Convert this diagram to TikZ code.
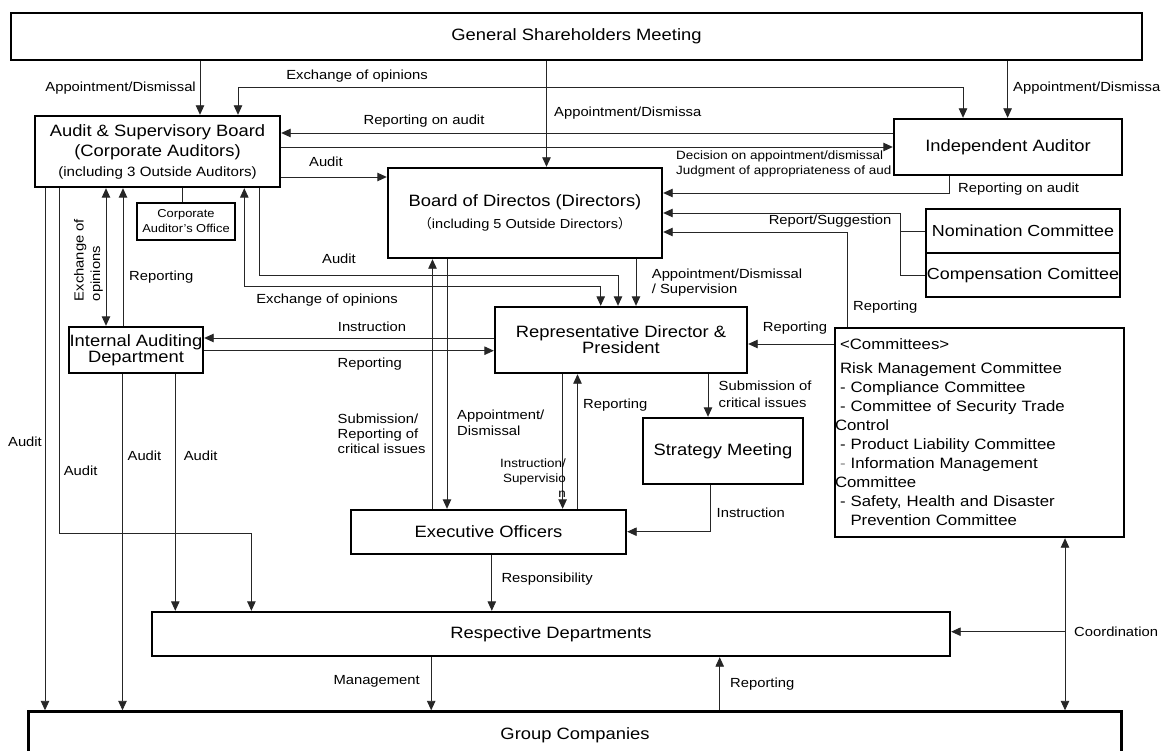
\documentclass[tikz,border=0pt]{standalone}
\usepackage{fontspec}
\setmainfont[FakeStretch=1.12]{Liberation Sans}
\newfontfamily\cjk{Noto Sans CJK JP}
\usetikzlibrary{arrows.meta}
\tikzset{
 box/.style={draw, line width=2.4pt, fill=white, inner sep=0pt, align=center, font=\fontsize{16.4}{16}\selectfont},
 lbl/.style={inner sep=0pt, font=\fontsize{13.2}{15}\selectfont},
 slbl/.style={inner sep=0pt, font=\fontsize{12}{15}\selectfont},
 conn/.style={line width=0.9pt, draw=black!85},
 tip/.style={-{Triangle[length=9.5pt,width=8.5pt]}},
 tips/.style={{Triangle[length=9.5pt,width=8.5pt]}-{Triangle[length=9.5pt,width=8.5pt]}},
}
\begin{document}
\begin{tikzpicture}[x=1pt,y=-1pt]
\clip (0,0) rectangle (1166,751);
\fill[white] (0,0) rectangle (1166,751);
% boxes
\node[box, minimum width=1131pt, minimum height=47pt] (gsm) at (576.5,36.5) {General Shareholders Meeting};
\node[box, minimum width=245pt, minimum height=71pt, font=\fontsize{16.4}{20}\selectfont] (asb) at (157.5,151.5) {Audit \& Supervisory Board\\(Corporate Auditors)\\{\fontsize{13.5}{20}\selectfont (including 3 Outside Auditors)}};
\node[box, minimum width=228pt, minimum height=56pt] (ia) at (1008,147) {Independent Auditor};
\node[box, minimum width=274pt, minimum height=90pt, font=\fontsize{16.4}{22}\selectfont] (bod) at (525,213) {Board of Directos (Directors)\\{\fontsize{13}{22}\selectfont{\cjk （}including 5 Outside Directors{\cjk ）}}};
\node[box, minimum width=98pt, minimum height=37pt, font=\fontsize{11.5}{15}\selectfont] (cao) at (186,221.5) {Corporate\\Auditor's Office};
\node[box, minimum width=194pt, minimum height=44pt, font=\fontsize{16}{16}\selectfont] (nom) at (1023,231) {Nomination Committee};
\node[box, minimum width=194pt, minimum height=44pt, font=\fontsize{16}{16}\selectfont] (com) at (1023,275) {Compensation Comittee};
\node[box, minimum width=134pt, minimum height=46pt] (iad) at (136,350) {Internal Auditing\\Department};
\node[box, minimum width=252pt, minimum height=66pt] (rdp) at (621,340) {Representative Director \&\\President};
\node[box, minimum width=289pt, minimum height=209pt, text width=279pt, align=left, font=\fontsize{15}{19}\selectfont] (cmt) at (979.5,432.5) {<Committees>\\[5pt]
Risk Management Committee\\
- Compliance Committee\\
- Committee of Security Trade\\
\hspace*{-5pt}Control\\
- Product Liability Committee\\
\textcolor{gray}{-} Information Management\\
\hspace*{-5pt}Committee\\
- Safety, Health and Disaster\\
\hspace*{10.5pt}Prevention Committee};
\node[box, minimum width=160pt, minimum height=66pt] (stm) at (723,451) {Strategy Meeting};
\node[box, minimum width=275pt, minimum height=44pt] (exo) at (488.5,532) {Executive Officers};
\node[box, minimum width=798pt, minimum height=44pt] (rsd) at (551,634) {Respective Departments};
\node[box, minimum width=1093pt, minimum height=47pt] (grp) at (575,735) {Group Companies};
\coordinate (cj) at (1065,631.7);
% connectors
\draw[conn,tip] (200,0 |- gsm.south) -- (200,0 |- asb.north);
\draw[conn,tip] (546.5,0 |- gsm.south) -- (546.5,0 |- bod.north);
\draw[conn,tip] (1007.6,0 |- gsm.south) -- (1007.6,0 |- ia.north);
\draw[conn,tips] (238,0 |- asb.north) -- (238,87) -- (963,87) -- (963,0 |- ia.north);
\draw[conn,tip] (ia.west |- 0,133) -- (asb.east |- 0,133);
\draw[conn,tip] (asb.east |- 0,147) -- (ia.west |- 0,147);
\draw[conn,tip] (asb.east |- 0,177) -- (bod.west |- 0,177);
\draw[conn,tip] (949.6,0 |- ia.south) -- (949.6,193) -- (bod.east |- 0,193);
\draw[conn] (nom.west) -- (900.7,0 |- nom.west);
\draw[conn,tip] (com.west) -- (900.7,0 |- com.west) -- (900.7,213) -- (bod.east |- 0,213);
\draw[conn,tip] (847.3,0 |- cmt.north) -- (847.3,232) -- (bod.east |- 0,232);
\draw[conn,tip] (cmt.west |- 0,344) -- (rdp.east |- 0,344);
\draw[conn,tip] (636,0 |- bod.south) -- (636,0 |- rdp.north);
\draw[conn,tip] (259.3,0 |- asb.south) -- (259.3,275) -- (618,275) -- (618,0 |- rdp.north);
\draw[conn,tips] (244.3,0 |- asb.south) -- (244.3,286.7) -- (600.7,286.7) -- (600.7,0 |- rdp.north);
\draw[conn] (182.7,0 |- asb.south) -- (182.7,0 |- cao.north);
\draw[conn,tips] (106,0 |- asb.south) -- (106,0 |- iad.north);
\draw[conn,tip] (123,0 |- iad.north) -- (123,0 |- asb.south);
\draw[conn,tip] (rdp.west |- 0,338) -- (iad.east |- 0,338);
\draw[conn,tip] (iad.east |- 0,350.7) -- (rdp.west |- 0,350.7);
\draw[conn,tip] (45,0 |- asb.south) -- (45,0 |- grp.north);
\draw[conn,tip] (59.3,0 |- asb.south) -- (59.3,533.3) -- (251.4,533.3) -- (251.4,0 |- rsd.north);
\draw[conn,tip] (122.5,0 |- iad.south) -- (122.5,0 |- grp.north);
\draw[conn,tip] (175.3,0 |- iad.south) -- (175.3,0 |- rsd.north);
\draw[conn,tip] (432.5,0 |- exo.north) -- (432.5,0 |- bod.south);
\draw[conn,tip] (447,0 |- bod.south) -- (447,0 |- exo.north);
\draw[conn,tip] (562.6,0 |- rdp.south) -- (562.6,0 |- exo.north);
\draw[conn,tip] (577.5,0 |- exo.north) -- (577.5,0 |- rdp.south);
\draw[conn,tip] (708,0 |- rdp.south) -- (708,0 |- stm.north);
\draw[conn,tip] (710.8,0 |- stm.south) -- (710.8,531.7) -- (exo.east |- 0,531.7);
\draw[conn,tip] (491.8,0 |- exo.south) -- (491.8,0 |- rsd.north);
\draw[conn,tips] (1065,0 |- cmt.south) -- (1065,0 |- grp.north);
\draw[conn,tip] (cj) -- (rsd.east |- cj);
\draw[conn,tip] (431.2,0 |- rsd.south) -- (431.2,0 |- grp.north);
\draw[conn,tip] (719.7,0 |- grp.north) -- (719.7,0 |- rsd.south);
% labels
\node[lbl, anchor=east] (l1) at (196,88) {Appointment/Dismissal};
\node[lbl] (l2) at (357,76) {Exchange of opinions};
\node[lbl, anchor=west] (l3) at (554,113) {Appointment/Dismissa};
\node[lbl, anchor=west] (l4) at (1013,88) {Appointment/Dismissa};
\node[lbl] (l5) at (424,121) {Reporting on audit};
\node[lbl] (l6) at (326,162) {Audit};
\node[slbl, anchor=west] (l7) at (676,156) {Decision on appointment/dismissal};
\node[slbl, anchor=west] (l8) at (676,171) {Judgment of appropriateness of aud};
\node[lbl, anchor=west] (l9) at (958,189) {Reporting on audit};
\node[lbl] (l10) at (830,220.7) {Report/Suggestion};
\node[lbl, anchor=west] (l11) at (853,306.7) {Reporting};
\node[lbl] (l12) at (795,327.7) {Reporting};
\node[lbl, anchor=west, align=left] (l13) at (651.7,282.5) {Appointment/Dismissal\\/ Supervision};
\node[lbl] (l14) at (339,258.3) {Audit};
\node[lbl] (l15) at (327,300) {Exchange of opinions};
\node[lbl, rotate=90, align=left, font=\fontsize{13.2}{16.5}\selectfont] (l16) at (88.5,260) {Exchange of\\opinions};
\node[lbl, anchor=west] (l17) at (129,277) {Reporting};
\node[lbl] (l18) at (372,326.7) {Instruction};
\node[lbl] (l19) at (369.7,364) {Reporting};
\node[lbl] (l20) at (25,441.7) {Audit};
\node[lbl] (l21) at (80.7,470.7) {Audit};
\node[lbl] (l22) at (144.5,456) {Audit};
\node[lbl] (l23) at (200.7,456) {Audit};
\node[lbl, anchor=west, align=left] (l24) at (337.5,433.3) {Submission/\\Reporting of\\critical issues};
\node[lbl, anchor=west, align=left, font=\fontsize{13.2}{15.7}\selectfont] (l25) at (457,423) {Appointment/\\Dismissal};
\node[slbl, anchor=east, align=right] (l26) at (566,477.7) {Instruction/\\Supervisio\\n};
\node[lbl, anchor=west] (l27) at (583,405) {Reporting};
\node[lbl, anchor=west, align=left, font=\fontsize{13.2}{17}\selectfont] (l28) at (718.5,394.7) {Submission of\\critical issues};
\node[lbl, anchor=west] (l29) at (716.5,512.3) {Instruction};
\node[lbl, anchor=west] (l30) at (501.3,579.3) {Responsibility};
\node[lbl, anchor=west] (l31) at (1074,631.7) {Coordination};
\node[lbl, anchor=east] (l32) at (420,681.7) {Management};
\node[lbl, anchor=west] (l33) at (730,684.3) {Reporting};
\end{tikzpicture}
\end{document}
